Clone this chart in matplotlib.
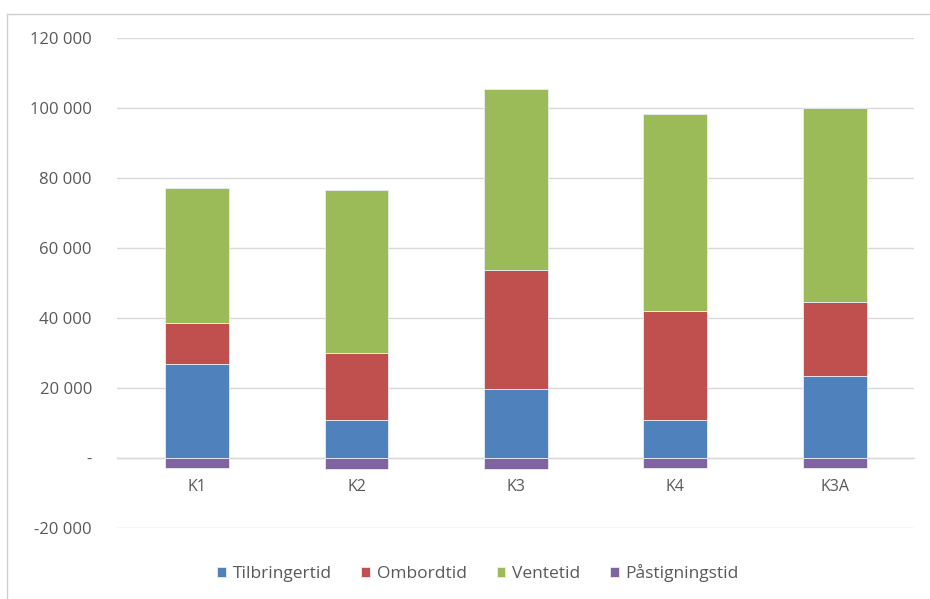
import matplotlib
matplotlib.use("Agg")
import matplotlib.pyplot as plt
from matplotlib.lines import Line2D
from matplotlib.ticker import FuncFormatter
import numpy as np

categories = ["K1", "K2", "K3", "K4", "K3A"]
tilbringertid = [27000, 11000, 19700, 11000, 23500]
ombordtid = [11600, 19000, 34100, 31100, 21000]
ventetid = [38600, 46700, 51700, 56100, 55600]
pastigningstid = [-2800, -3100, -3200, -2800, -2800]

series_names = ["Tilbringertid", "Ombordtid", "Ventetid", "Påstigningstid"]
colors = ["#4F81BD", "#C0504D", "#9BBB59", "#8064A2"]
yticks = [-20000, 0, 20000, 40000, 60000, 80000, 100000, 120000]

plt.rcParams["font.family"] = ["Open Sans", "DejaVu Sans"]

fig = plt.figure(figsize=(9.30, 5.99), dpi=100)
ax = fig.add_axes([0.1263, 0.1185, 0.857, 0.818])

x = np.arange(len(categories))
w = 0.40
edge = dict(edgecolor="#E8EEF4", linewidth=0.6)

ax.bar(x, tilbringertid, w, color=colors[0], label=series_names[0], zorder=3, **edge)
bottom2 = np.array(tilbringertid)
ax.bar(x, ombordtid, w, bottom=bottom2, color=colors[1], label=series_names[1], zorder=3, **edge)
bottom3 = bottom2 + np.array(ombordtid)
ax.bar(x, ventetid, w, bottom=bottom3, color=colors[2], label=series_names[2], zorder=3, **edge)
ax.bar(x, pastigningstid, w, color=colors[3], label=series_names[3], zorder=3, **edge)

ax.set_xlim(-0.5, len(categories) - 0.5)
ax.set_ylim(-20000, 120000)
ax.set_yticks(yticks)


def fmt(v, pos):
    if v == 0:
        return "-"
    s = f"{abs(int(v)):,}".replace(",", " ")
    return ("-" if v < 0 else "") + s


ax.yaxis.set_major_formatter(FuncFormatter(fmt))
ax.grid(axis="y", color="#D9D9D9", linewidth=1.0, zorder=0)
ax.set_axisbelow(True)

for s in ["top", "right", "left"]:
    ax.spines[s].set_visible(False)
ax.spines["bottom"].set_position(("data", 0))
ax.spines["bottom"].set_color("#D9D9D9")
ax.spines["bottom"].set_linewidth(1.0)
ax.spines["bottom"].set_zorder(1)

ax.set_xticks(x)
ax.set_xticklabels(categories)
ax.tick_params(axis="x", length=0, pad=15, labelsize=11.5, labelcolor="#595959")
ax.tick_params(axis="y", length=0, pad=18.4, labelsize=12, labelcolor="#595959")

leg = fig.legend(loc="center", bbox_to_anchor=(0.514, 0.0434), ncol=4, frameon=False,
                 fontsize=12.5, handlelength=0.5, handleheight=0.5, handletextpad=0.4,
                 columnspacing=1.7, labelcolor="#595959")

# chart area border (left and top edges)
fig.add_artist(Line2D([0.008, 0.008], [0.0, 1 - 14 / 599], color="#D0D0D0", linewidth=1.0,
                      transform=fig.transFigure))
fig.add_artist(Line2D([0.008, 1.0], [1 - 14 / 599, 1 - 14 / 599], color="#D0D0D0", linewidth=1.0,
                      transform=fig.transFigure))

fig.savefig("out.png", dpi=100)
